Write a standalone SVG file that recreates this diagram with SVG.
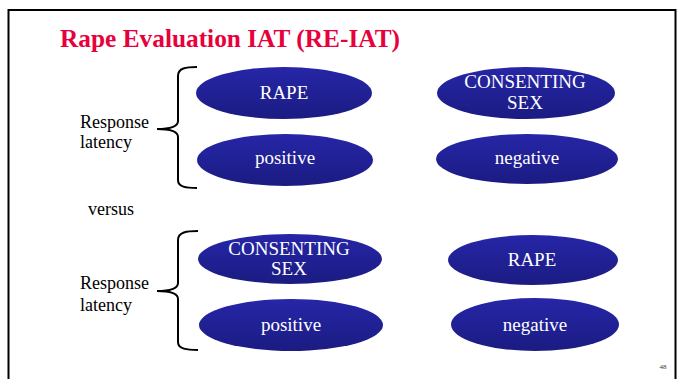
<svg xmlns="http://www.w3.org/2000/svg" width="683" height="379" viewBox="0 0 683 379">
<defs>
<linearGradient id="g" x1="0" y1="0" x2="0" y2="1">
<stop offset="0" stop-color="#2626A8"/>
<stop offset="1" stop-color="#1B1B82"/>
</linearGradient>
</defs>
<rect x="0" y="0" width="683" height="379" fill="#fff"/>
<rect x="8.5" y="10" width="667" height="380" fill="none" stroke="#000" stroke-width="2"/>
<text font-family="Liberation Serif" x="60" y="47" font-weight="bold" font-size="25" fill="#E8003D" textLength="340" lengthAdjust="spacingAndGlyphs">Rape Evaluation IAT (RE-IAT)</text>

<g font-size="18" fill="#000">
<g id="label-top">
<text font-family="Liberation Serif" x="80" y="128">Response</text>
<text font-family="Liberation Serif" x="80" y="148">latency</text>
</g>
<text font-family="Liberation Serif" x="88" y="215" id="versus">versus</text>
<g id="label-bottom">
<text font-family="Liberation Serif" x="80" y="289">Response</text>
<text font-family="Liberation Serif" x="80" y="311">latency</text>
</g>
</g>

<g id="connectors" fill="none" stroke="#000" stroke-width="2">
<path d="M197,67 C186,67 178,68 178,76 L178,121 C178,126 172,129 157,129 C172,129 178,132 178,137 L178,180 C178,187 186,188 197,188"/>
<path d="M198,231 C187,231 178,232 178,240 L178,283 C178,288 172,291 157,291 C172,291 178,294 178,299 L178,342 C178,349 187,350 198,350"/>
</g>

<g font-size="19" text-anchor="middle">
<g id="n-rape1">
<ellipse fill="url(#g)" cx="284" cy="93" rx="88" ry="26"/>
<text font-family="Liberation Serif" fill="#fff" x="284" y="99">RAPE</text>
</g>
<g id="n-positive1">
<ellipse fill="url(#g)" cx="285" cy="160" rx="88" ry="26"/>
<text font-family="Liberation Serif" fill="#fff" x="285" y="164">positive</text>
</g>
<g id="n-consent1">
<ellipse fill="url(#g)" cx="526" cy="93" rx="89" ry="26"/>
<text font-family="Liberation Serif" fill="#fff" x="525" y="88">CONSENTING</text>
<text font-family="Liberation Serif" fill="#fff" x="525" y="109">SEX</text>
</g>
<g id="n-negative1">
<ellipse fill="url(#g)" cx="527" cy="159" rx="91" ry="25"/>
<text font-family="Liberation Serif" fill="#fff" x="527" y="164">negative</text>
</g>
<g id="n-consent2">
<ellipse fill="url(#g)" cx="290" cy="259" rx="92" ry="25"/>
<text font-family="Liberation Serif" fill="#fff" x="289" y="255">CONSENTING</text>
<text font-family="Liberation Serif" fill="#fff" x="289" y="275">SEX</text>
</g>
<g id="n-positive2">
<ellipse fill="url(#g)" cx="291" cy="325" rx="92" ry="26"/>
<text font-family="Liberation Serif" fill="#fff" x="291" y="331">positive</text>
</g>
<g id="n-rape2">
<ellipse fill="url(#g)" cx="533" cy="260" rx="85" ry="25"/>
<text font-family="Liberation Serif" fill="#fff" x="532" y="266">RAPE</text>
</g>
<g id="n-negative2">
<ellipse fill="url(#g)" cx="535" cy="324.5" rx="84" ry="26.5"/>
<text font-family="Liberation Serif" fill="#fff" x="535" y="331">negative</text>
</g>
<text font-family="Liberation Serif" x="663" y="369" font-size="7" fill="#333">48</text>
</g>
</svg>
